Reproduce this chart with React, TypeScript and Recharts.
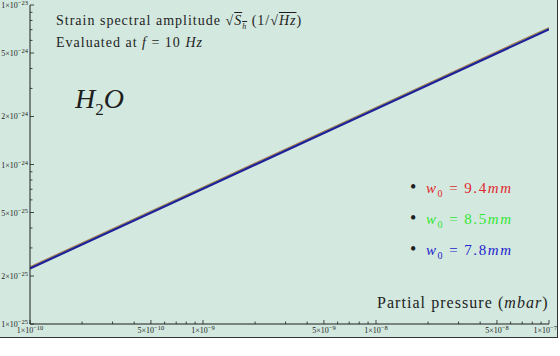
import { LineChart, Line, XAxis, YAxis } from "recharts";

// values
const pressure = [1e-10, 1e-9, 1e-8, 1e-7];
const ampW94 = [2.27e-25, 7.18e-25, 2.27e-24, 7.18e-24];
const ampW85 = [2.255e-25, 7.13e-25, 2.255e-24, 7.13e-24];
const ampW78 = [2.23e-25, 7.05e-25, 2.23e-24, 7.05e-24];

const xDecades = [-10, -9, -8];
const yDecades = [-25, -24];
const mantissas = [1, 2, 3, 4, 5, 6, 7, 8, 9];
const xLabeledMantissas = [1, 5];
const yLabeledMantissas = [1, 2, 5];

const xTicks = [...xDecades.flatMap((d) => mantissas.map((m) => m * Math.pow(10, d))), 1e-7];
const yTicks = [...yDecades.flatMap((d) => mantissas.map((m) => m * Math.pow(10, d))), 1e-23];

const data = pressure.map((p, i) => ({
  p,
  w94: ampW94[i],
  w85: ampW85[i],
  w78: ampW78[i],
}));

const BG = "#d3e8df";
const INK = "#1e1e1e";
const SERIF = "'Liberation Serif', 'DejaVu Serif', serif";

function split(v: number) {
  const e = Math.floor(Math.log10(v) + 1e-9);
  const m = Math.round(v / Math.pow(10, e));
  return { m, e };
}

function XTick(props: any) {
  const { x, y, payload } = props;
  const { m, e } = split(payload.value);
  const major = xLabeledMantissas.includes(m);
  const last = e === -7;
  return (
    <g>
      <line x1={x} x2={x} y1={y} y2={y - (major ? 4 : 2.5)} stroke={INK} strokeWidth={0.8} />
      {major && (
        <text
          x={last ? x + 8 : x}
          y={y + 9}
          textAnchor={last ? "end" : "middle"}
          fontSize={8}
          fontFamily={SERIF}
          fill={INK}
        >
          <tspan>{m}×10</tspan>
          <tspan dy={-3} fontSize={6.5}>−{-e}</tspan>
        </text>
      )}
    </g>
  );
}

function YTick(props: any) {
  const { x, y, payload } = props;
  const { m, e } = split(payload.value);
  const major = yLabeledMantissas.includes(m);
  return (
    <g>
      <line x1={x} x2={x + (major ? 4 : 2.5)} y1={y} y2={y} stroke={INK} strokeWidth={0.8} />
      {major && (
        <text x={x - 2} y={y + 3} textAnchor="end" fontSize={8} fontFamily={SERIF} fill={INK}>
          <tspan>{m}×10</tspan>
          <tspan dy={-3} fontSize={6.5}>−{-e}</tspan>
        </text>
      )}
    </g>
  );
}

const legend = [
  { label: "9.4", color: "#e0282e", top: 187 },
  { label: "8.5", color: "#33e633", top: 218 },
  { label: "7.8", color: "#2424cc", top: 249 },
];

export default function App() {
  return (
    <div
      style={{
        position: "absolute",
        left: 0,
        top: 0,
        width: 557,
        height: 337,
        background: BG,
        borderRight: "1px solid #333",
        borderBottom: "1px solid #333",
        fontFamily: SERIF,
        color: INK,
      }}
    >
      <LineChart width={557} height={337} data={data} margin={{ top: 5, right: 8, left: 0, bottom: 0 }}>
        <XAxis
          dataKey="p"
          type="number"
          scale="log"
          domain={[1e-10, 1e-7]}
          allowDataOverflow
          ticks={xTicks}
          interval={0}
          height={13}
          tickSize={0}
          tickMargin={0}
          tickLine={false}
          axisLine={{ stroke: INK, strokeWidth: 1 }}
          tick={<XTick />}
        />
        <YAxis
          type="number"
          scale="log"
          domain={[1e-25, 1e-23]}
          allowDataOverflow
          ticks={yTicks}
          interval={0}
          width={30}
          tickSize={0}
          tickMargin={0}
          tickLine={false}
          axisLine={{ stroke: INK, strokeWidth: 1 }}
          tick={<YTick />}
        />
        <Line dataKey="w94" stroke="#c8443a" strokeWidth={1.8} dot={false} isAnimationActive={false} />
        <Line dataKey="w85" stroke="#8fb85a" strokeWidth={1.8} dot={false} isAnimationActive={false} />
        <Line dataKey="w78" stroke="#20209a" strokeWidth={2.2} dot={false} isAnimationActive={false} />
      </LineChart>

      <div
        style={{
          position: "absolute",
          left: 56,
          top: 13,
          fontSize: 14,
          lineHeight: "16px",
          letterSpacing: 1,
          whiteSpace: "nowrap",
        }}
      >
        <div>
          Strain spectral amplitude √<span style={{ textDecoration: "overline" }}><i>S</i><sub style={{ fontSize: 8 }}><i>h</i></sub></span>{" "}
          (1/√<span style={{ textDecoration: "overline" }}><i>Hz</i></span>)
        </div>
        <div>
          Evaluated at <i>f</i> = 10 <i>Hz</i>
        </div>
      </div>

      <div style={{ position: "absolute", left: 75, top: 83, fontSize: 28, whiteSpace: "nowrap" }}>
        <i>H</i>
        <sub style={{ fontSize: 17 }}>2</sub>
        <i>O</i>
      </div>

      {legend.map((l) => (
        <div
          key={l.label}
          style={{
            position: "absolute",
            left: 410,
            top: l.top - 10,
            fontSize: 15,
            lineHeight: "20px",
            letterSpacing: 1.6,
            whiteSpace: "nowrap",
          }}
        >
          <span style={{ color: INK, fontSize: 18, marginRight: 8 }}>•</span>
          <span style={{ color: l.color }}>
            <i>w</i>
            <sub style={{ fontSize: 10 }}>0</sub>
            <span style={{ margin: "0 5px" }}>=</span>
            {l.label}
            <i>mm</i>
          </span>
        </div>
      ))}

      <div style={{ position: "absolute", left: 377, top: 294, fontSize: 16, letterSpacing: 1.05, whiteSpace: "nowrap" }}>
        Partial pressure (<i>mbar</i>)
      </div>
    </div>
  );
}
